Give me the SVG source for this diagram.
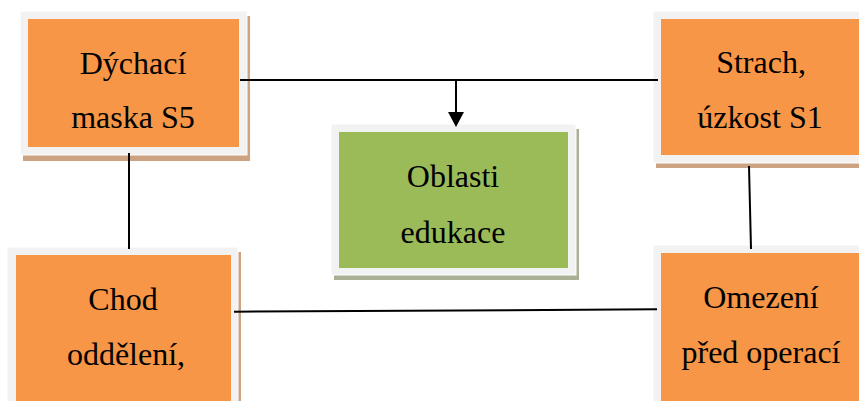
<svg xmlns="http://www.w3.org/2000/svg" width="859" height="401" viewBox="0 0 859 401">
  <defs>
    <style>
      .frame { fill: #f2f2f2; stroke: #ffffff; stroke-width: 1; }
      .shadow-o { fill: #cda281; }
      .shadow-g { fill: #a9b094; }
      .orange { fill: #f79646; }
      .green { fill: #9bbb59; }
      .wire { stroke: #000000; stroke-width: 2; fill: none; }
    </style>
  </defs>
  <rect width="859" height="401" fill="#ffffff"/>

  <g font-family="Liberation Serif, DejaVu Serif, serif" font-size="32" fill="#000000" text-anchor="middle">
  <g id="node-dychaci-maska">
    <rect class="shadow-o" x="23" y="16" width="227" height="145"/>
    <rect class="frame" x="20" y="11" width="227" height="144"/>
    <rect class="orange" x="28" y="19" width="211" height="128"/>
    <text x="133" y="74">Dýchací</text>
    <text x="133" y="128">maska S5</text>
  </g>

  <g id="node-oblasti-edukace">
    <rect class="shadow-g" x="334" y="129" width="245" height="151"/>
    <rect class="frame" x="331" y="124" width="245" height="151"/>
    <rect class="green" x="339" y="132" width="229" height="136"/>
    <text x="453" y="187">Oblasti</text>
    <text x="453" y="243">edukace</text>
  </g>

  <g id="node-strach-uzkost">
    <rect class="shadow-o" x="656" y="16" width="220" height="152"/>
    <rect class="frame" x="653" y="11" width="220" height="152"/>
    <rect class="orange" x="661" y="19" width="212" height="136"/>
    <text x="761" y="73">Strach,</text>
    <text x="760" y="128">úzkost S1</text>
  </g>

  <g id="node-chod-oddeleni">
    <rect class="shadow-o" x="10" y="252" width="231" height="160"/>
    <rect class="frame" x="7" y="247" width="231" height="160"/>
    <rect class="orange" x="16" y="255" width="215" height="160"/>
    <text x="123" y="310">Chod</text>
    <text x="126" y="365">oddělení,</text>
  </g>

  <g id="node-omezeni">
    <rect class="shadow-o" x="656" y="250" width="220" height="160"/>
    <rect class="frame" x="653" y="245" width="220" height="160"/>
    <rect class="orange" x="661" y="253" width="212" height="160"/>
    <text x="761" y="308">Omezení</text>
    <text x="761" y="363">před operací</text>
  </g>
  </g>

  <!-- connectors sit on top of the box frames -->
  <g id="connectors">
    <line class="wire" x1="240" y1="80" x2="658" y2="80"/>
    <line class="wire" x1="456" y1="80" x2="456" y2="113"/>
    <polygon points="448,112 464,112 456,127" fill="#000000"/>
    <line class="wire" x1="129" y1="153" x2="129" y2="249"/>
    <line class="wire" x1="749" y1="166" x2="751" y2="249"/>
    <line class="wire" x1="234" y1="311.7" x2="657" y2="309.3"/>
  </g>
</svg>
